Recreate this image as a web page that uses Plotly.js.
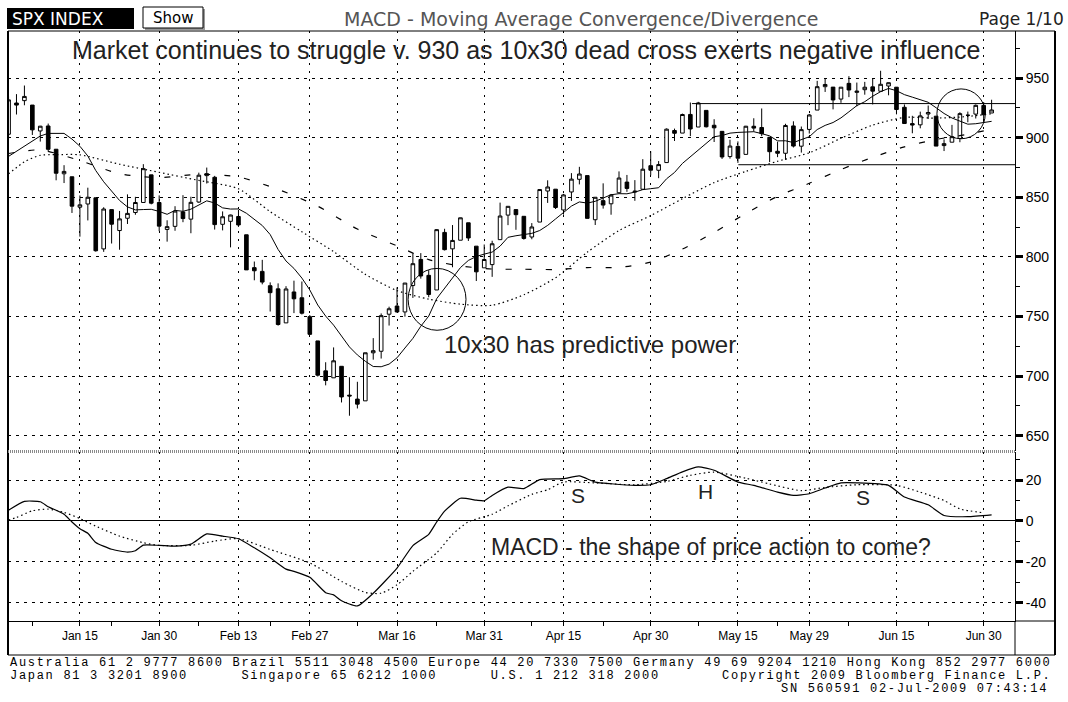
<!DOCTYPE html>
<html><head><meta charset="utf-8">
<script src="https://cdn.plot.ly/plotly-3.0.1.min.js"></script>
<style>html,body{margin:0;padding:0;background:#fff;}#chart{width:1068px;height:702px;}</style>
</head><body><div id="chart"></div>
<script>
// ---- data (SPX daily, Jan 2 - Jul 1 2009) ----
const dates = [
'2009-01-02','2009-01-05','2009-01-06','2009-01-07','2009-01-08','2009-01-09','2009-01-12','2009-01-13','2009-01-14','2009-01-15','2009-01-16','2009-01-20','2009-01-21','2009-01-22','2009-01-23','2009-01-26','2009-01-27','2009-01-28','2009-01-29','2009-01-30',
'2009-02-02','2009-02-03','2009-02-04','2009-02-05','2009-02-06','2009-02-09','2009-02-10','2009-02-11','2009-02-12','2009-02-13','2009-02-17','2009-02-18','2009-02-19','2009-02-20','2009-02-23','2009-02-24','2009-02-25','2009-02-26','2009-02-27',
'2009-03-02','2009-03-03','2009-03-04','2009-03-05','2009-03-06','2009-03-09','2009-03-10','2009-03-11','2009-03-12','2009-03-13','2009-03-16','2009-03-17','2009-03-18','2009-03-19','2009-03-20','2009-03-23','2009-03-24','2009-03-25','2009-03-26','2009-03-27','2009-03-30','2009-03-31',
'2009-04-01','2009-04-02','2009-04-03','2009-04-06','2009-04-07','2009-04-08','2009-04-09','2009-04-13','2009-04-14','2009-04-15','2009-04-16','2009-04-17','2009-04-20','2009-04-21','2009-04-22','2009-04-23','2009-04-24','2009-04-27','2009-04-28','2009-04-29','2009-04-30',
'2009-05-01','2009-05-04','2009-05-05','2009-05-06','2009-05-07','2009-05-08','2009-05-11','2009-05-12','2009-05-13','2009-05-14','2009-05-15','2009-05-18','2009-05-19','2009-05-20','2009-05-21','2009-05-22','2009-05-26','2009-05-27','2009-05-28','2009-05-29',
'2009-06-01','2009-06-02','2009-06-03','2009-06-04','2009-06-05','2009-06-08','2009-06-09','2009-06-10','2009-06-11','2009-06-12','2009-06-15','2009-06-16','2009-06-17','2009-06-18','2009-06-19','2009-06-22','2009-06-23','2009-06-24','2009-06-25','2009-06-26','2009-06-29','2009-06-30','2009-07-01'];

const open = [902.99,929.17,931.17,927.45,905.73,909.91,890.40,869.79,867.28,841.75,844.45,849.64,806.77,839.74,822.16,832.50,837.30,845.73,868.89,845.69,
823.09,825.69,837.77,831.75,846.09,868.24,866.87,827.41,829.91,833.95,818.61,791.06,787.91,775.87,773.25,744.69,770.64,765.76,749.93,
729.57,704.44,698.60,708.27,684.04,680.76,679.28,719.59,720.89,751.97,758.84,753.88,776.01,797.92,784.58,772.31,820.60,806.81,814.06,828.68,809.07,790.88,
793.59,814.53,835.13,839.75,834.12,816.76,829.29,855.33,856.88,839.44,854.54,865.18,868.27,831.25,847.26,844.62,853.91,862.82,854.48,856.85,876.59,
872.74,879.21,906.10,903.95,919.58,909.03,922.99,910.52,905.40,884.24,892.76,886.07,909.67,908.62,900.42,888.68,887.00,909.95,892.96,907.02,
923.26,942.87,942.51,932.49,945.67,938.12,940.35,942.73,939.04,943.44,942.45,925.60,911.89,910.86,919.96,918.13,893.46,896.31,899.45,918.84,919.86,927.15,920.82];
const high = [934.73,936.63,943.85,927.45,910.00,911.93,890.40,877.02,867.28,851.59,858.13,849.64,841.72,839.74,838.61,852.53,850.45,877.86,868.89,851.66,
830.78,842.60,851.85,850.55,870.75,875.01,868.05,838.22,835.48,839.43,818.61,796.17,797.58,778.69,777.85,775.49,780.12,779.42,751.27,
729.57,711.67,724.12,708.27,699.09,695.27,719.60,731.92,752.63,758.29,774.53,778.12,803.04,803.24,788.91,823.37,823.65,826.78,832.98,828.68,809.07,810.48,
813.62,845.61,842.50,839.75,834.12,828.42,856.91,864.31,856.88,852.93,870.35,875.63,868.27,850.09,861.78,852.87,871.80,868.83,864.48,882.06,888.70,
880.48,907.85,907.70,920.28,929.58,930.17,922.99,915.57,905.40,898.36,896.97,910.00,916.39,924.60,900.42,896.65,911.76,913.84,909.45,920.02,
947.77,949.38,942.51,942.47,951.69,946.33,946.92,949.77,956.23,946.30,942.45,928.00,918.44,921.93,927.09,918.13,898.69,910.85,921.42,922.00,927.99,930.01,931.92];
const low = [899.35,919.53,927.28,902.37,896.81,888.31,864.32,862.02,836.93,817.04,830.66,804.47,804.30,811.29,806.07,827.69,835.40,845.73,844.15,821.67,
812.87,821.98,829.18,819.91,845.42,861.65,822.99,822.30,808.06,825.21,789.17,780.43,777.03,754.25,742.37,744.69,752.89,751.75,734.52,
699.70,692.30,698.60,677.93,666.79,672.88,679.28,713.85,714.76,742.46,753.37,749.93,765.64,781.82,766.20,772.31,805.48,791.37,814.06,813.43,779.81,790.88,
783.32,814.53,826.70,822.79,814.53,814.84,829.29,845.35,840.25,835.58,847.04,860.87,832.39,826.83,840.57,835.45,853.91,854.65,847.12,856.85,868.51,
866.10,879.21,897.34,903.95,901.36,909.03,908.68,896.46,882.27,882.52,878.94,886.07,905.22,901.37,879.61,883.75,881.46,891.87,887.60,903.56,
923.26,938.46,923.85,929.32,934.13,926.44,936.15,927.97,939.04,935.66,919.65,911.60,903.78,907.94,915.80,893.04,888.86,896.31,896.27,913.03,916.18,912.86,920.82];
const close = [931.80,927.45,934.70,906.65,909.73,890.35,870.26,871.79,842.62,843.74,850.12,805.22,840.24,827.50,831.95,836.57,845.71,874.09,845.14,825.88,
825.44,838.51,832.23,845.85,868.60,869.89,827.16,833.74,835.19,826.84,789.17,788.42,778.94,770.05,743.33,773.14,764.90,752.83,735.09,
700.82,696.33,712.87,682.55,683.38,676.53,719.60,721.36,750.74,756.55,753.89,778.12,794.35,784.04,768.54,822.92,806.12,813.88,832.86,815.94,787.53,797.87,
811.08,834.38,842.50,835.48,815.55,825.16,856.56,858.73,841.50,852.06,865.30,869.60,832.39,850.08,843.55,851.92,866.23,857.51,855.16,873.64,872.81,
877.52,907.24,903.80,919.53,907.39,929.23,909.24,908.35,883.92,893.07,882.88,909.71,908.13,903.47,888.33,887.00,910.33,893.06,906.83,919.14,
942.87,944.74,931.76,942.46,940.09,939.14,942.43,939.15,944.89,946.21,923.72,911.97,910.71,918.37,921.23,893.04,895.10,900.94,920.26,918.90,927.23,919.32,923.33];

// 10-day moving average (solid line), one value per day
const ma10 = [884.4,888.6,893.3,896.8,901.5,903.7,903.4,903.7,898.9,892.9,884.7,872.5,863.1,855.2,847.4,842.0,839.5,839.8,840.0,838.2,
835.8,839.1,838.3,840.1,843.8,847.1,845.3,841.2,840.2,840.3,836.7,831.7,826.4,818.8,806.3,796.6,790.4,782.3,772.3,
759.7,750.4,742.8,733.2,724.5,717.8,712.5,708.1,707.9,710.1,715.4,723.6,731.7,741.9,750.4,765.0,773.7,782.9,791.1,797.1,800.4,802.4,
804.1,809.1,816.5,817.8,818.7,819.8,822.2,826.5,831.9,837.3,842.7,846.2,845.2,846.7,849.5,852.2,853.1,853.0,854.4,856.5,857.3,
858.1,865.6,870.9,878.5,884.1,890.4,895.6,900.9,901.9,903.9,904.5,904.7,905.1,903.5,901.6,897.4,897.5,896.0,898.3,900.9,
906.9,910.4,912.8,916.7,921.8,927.0,930.3,934.9,938.7,941.4,939.5,936.2,934.1,931.7,929.8,925.2,920.4,916.6,914.2,911.4,911.8,912.5,913.8];

// 30-day moving average (dotted line), read at sample days
const ma30Dates = ['2009-01-02','2009-01-06','2009-01-08','2009-01-12','2009-01-15','2009-01-23','2009-01-30','2009-02-06','2009-02-13','2009-02-20','2009-02-26','2009-03-04','2009-03-10','2009-03-16','2009-03-20','2009-03-26','2009-04-01','2009-04-07','2009-04-14','2009-04-20','2009-04-24','2009-04-30','2009-05-06','2009-05-12','2009-05-18','2009-05-22','2009-05-29','2009-06-04','2009-06-10','2009-06-16','2009-06-22','2009-06-26','2009-07-01'];
const ma30 = [869.7,879.8,885.3,885.8,885.7,877.8,871.0,864.2,857.2,838.0,821.1,804.5,785.4,771.8,764.6,760.4,759.5,768.3,782.6,804.0,822.2,834.7,848.9,862.4,871.8,880.3,887.4,899.6,910.6,917.1,916.5,917.9,920.2];

// 50-day moving average (dashed line), read at sample days
const ma50Dates = ['2009-01-02','2009-01-08','2009-01-15','2009-01-23','2009-01-30','2009-02-06','2009-02-13','2009-02-23','2009-03-02','2009-03-09','2009-03-16','2009-03-20','2009-03-26','2009-04-01','2009-04-07','2009-04-14','2009-04-20','2009-04-24','2009-04-30','2009-05-06','2009-05-12','2009-05-18','2009-05-22','2009-05-29','2009-06-04','2009-06-10','2009-06-16','2009-06-22','2009-06-26','2009-07-01'];
const ma50 = [886.8,889.8,880.9,869.8,866.6,869.4,867.1,856.7,842.6,823.4,809.3,797.8,792.5,789.9,789.7,789.5,791.1,791.3,795.7,806.6,820.6,836.5,850.9,861.8,873.4,883.6,892.4,898.6,903.0,907.3];

// MACD line (solid) and signal line (dotted)
const macdDates = ['2009-01-02','2009-01-06','2009-01-08','2009-01-09','2009-01-13','2009-01-14','2009-01-15','2009-01-16','2009-01-20','2009-01-22','2009-01-26','2009-01-27','2009-01-28','2009-01-30','2009-02-03','2009-02-05','2009-02-09','2009-02-11','2009-02-13','2009-02-18','2009-02-20','2009-02-24','2009-02-25','2009-02-27','2009-03-03','2009-03-04','2009-03-05','2009-03-09','2009-03-11','2009-03-16','2009-03-18','2009-03-20','2009-03-23','2009-03-24','2009-03-26','2009-03-30','2009-03-31','2009-04-01','2009-04-03','2009-04-07','2009-04-09','2009-04-15','2009-04-17','2009-04-21','2009-04-23','2009-04-28','2009-04-30','2009-05-04','2009-05-06','2009-05-08','2009-05-12','2009-05-15','2009-05-19','2009-05-22','2009-05-27','2009-05-29','2009-06-02','2009-06-04','2009-06-08','2009-06-12','2009-06-16','2009-06-19','2009-06-23','2009-06-26','2009-07-01'];
const macd = [5.3,9.6,9.4,7.0,3.3,-0.5,-3.8,-6.0,-10.5,-13.8,-15.2,-14.5,-11.8,-11.9,-12.3,-11.3,-6.3,-7.4,-8.7,-13.1,-18.0,-23.5,-24.6,-27.5,-35.0,-36.1,-39.0,-41.5,-35.3,-23.0,-12.0,-6.5,-0.5,4.8,11.1,10.2,9.9,12.5,16.5,15.8,20.2,20.7,22.0,19.0,18.2,17.4,17.7,20.7,24.0,26.4,24.8,19.0,17.4,14.1,12.5,13.3,16.1,18.6,18.6,17.4,11.7,7.9,2.7,2.1,3.0];
const sigDates = ['2009-01-02','2009-01-05','2009-01-07','2009-01-09','2009-01-13','2009-01-15','2009-01-20','2009-01-23','2009-01-28','2009-01-30','2009-02-05','2009-02-10','2009-02-13','2009-02-20','2009-02-27','2009-03-05','2009-03-10','2009-03-12','2009-03-16','2009-03-18','2009-03-23','2009-03-25','2009-03-27','2009-04-01','2009-04-03','2009-04-08','2009-04-13','2009-04-15','2009-04-21','2009-04-28','2009-05-04','2009-05-07','2009-05-12','2009-05-18','2009-05-21','2009-05-28','2009-06-02','2009-06-08','2009-06-15','2009-06-18','2009-06-23','2009-06-25','2009-06-30'];
const signal = [0.5,1.7,5.0,5.8,4.2,1.2,-2.5,-7.4,-10.6,-11.9,-11.9,-9.8,-8.6,-13.9,-20.5,-29.5,-34.9,-35.3,-31.2,-24.6,-15.6,-6.5,-0.4,3.3,7.4,13.0,15.3,19.0,18.6,17.7,19.3,22.3,23.9,20.9,18.1,14.8,16.4,17.7,17.4,14.1,10.0,5.9,4.0];

const tickDates = ['2009-01-15','2009-01-30','2009-02-13','2009-02-27','2009-03-16','2009-03-31','2009-04-15','2009-04-30','2009-05-15','2009-05-29','2009-06-15','2009-06-30'];
const tickLabels = ['Jan 15','Jan 30','Feb 13','Feb 27','Mar 16','Mar 31','Apr 15','Apr 30','May 15','May 29','Jun 15','Jun 30'];
const minorTickDates = ['2009-01-07','2009-01-22','2009-02-06','2009-02-20','2009-03-09','2009-03-23','2009-04-08','2009-04-22','2009-05-08','2009-05-22','2009-06-05','2009-06-19'];
const priceTicks = [650,700,750,800,850,900,950];
const priceMinor = [675,725,775,825,875,925,975];
const macdTicks = [-40,-20,0,20];
const macdTickText = ['-40','-20','0','20'];
const macdMinor = [-30,-10,10,30];

// ---- build ----
const W = 1068, H = 702;
const idx = d => dates.indexOf(d);
const xi = dates.map((d, k) => k);
const px = x => x / W, py = y => 1 - y / H;
const DOT = '#000';

const traces = [
  {type:'candlestick', x:xi, open:open, high:high, low:low, close:close, xaxis:'x', yaxis:'y',
   increasing:{line:{color:'#000', width:1}, fillcolor:'#fff'},
   decreasing:{line:{color:'#000', width:1}, fillcolor:'#000'},
   whiskerwidth:0, hoverinfo:'skip', showlegend:false},
  {type:'scatter', mode:'lines', x:xi, y:ma10, xaxis:'x', yaxis:'y', line:{color:'#000', width:1}, hoverinfo:'skip'},
  {type:'scatter', mode:'lines', x:ma30Dates.map(idx), y:ma30, xaxis:'x', yaxis:'y', line:{color:'#000', width:1.2, dash:'1.5px,3px', shape:'spline', smoothing:0.7}, hoverinfo:'skip'},
  {type:'scatter', mode:'lines', x:ma50Dates.map(idx), y:ma50, xaxis:'x', yaxis:'y', line:{color:'#000', width:1.2, dash:'6px,14px', shape:'spline', smoothing:0.7}, hoverinfo:'skip'},
  {type:'scatter', mode:'lines', x:macdDates.map(idx), y:macd, xaxis:'x2', yaxis:'y2', line:{color:'#000', width:1.2, shape:'spline', smoothing:0.5}, hoverinfo:'skip'},
  {type:'scatter', mode:'lines', x:sigDates.map(idx), y:signal, xaxis:'x2', yaxis:'y2', line:{color:'#000', width:1.2, dash:'1.5px,3px', shape:'spline', smoothing:0.6}, hoverinfo:'skip'}
];

const xr = [-0.07, 126.95];
const xdom = [px(8), px(1015)];
const tickFontR = {family:'Liberation Sans Narrow, Arial Narrow, sans-serif', size:14, color:'#000'};

const layout = {
  width:W, height:H, margin:{l:0, r:0, t:0, b:0}, autosize:false,
  paper_bgcolor:'#fff', plot_bgcolor:'#fff', showlegend:false, boxgap:0.35,
  xaxis:{domain:xdom, range:xr, anchor:'y', tickmode:'array', tickvals:tickDates.map(idx), showticklabels:false, ticks:'',
         showgrid:true, gridcolor:DOT, gridwidth:1, griddash:'2px,6px', zeroline:false, showline:false,
         rangeslider:{visible:false}, fixedrange:true},
  yaxis:{domain:[py(451), py(31)], range:[637.2, 989.6], anchor:'x', side:'right', tickmode:'array', tickvals:priceTicks,
         ticks:'outside', ticklen:7, tickwidth:3, tickcolor:'#000', showline:true, linecolor:'#000', linewidth:1,
         showgrid:true, gridcolor:DOT, gridwidth:1, griddash:'3px,5px', zeroline:false, tickfont:tickFontR,
         minor:{tickmode:'array', tickvals:priceMinor, ticks:'outside', ticklen:4, tickwidth:1, tickcolor:'#000', showgrid:false}, fixedrange:true},
  xaxis2:{domain:xdom, range:xr, anchor:'y2', tickmode:'array', tickvals:tickDates.map(idx), ticktext:tickLabels,
          ticks:'outside', ticklen:4, tickcolor:'#000', showline:true, linecolor:'#000', linewidth:1,
          showgrid:true, gridcolor:DOT, gridwidth:1, griddash:'2px,6px', zeroline:false,
          tickfont:{family:'Liberation Sans Narrow, Arial Narrow, sans-serif', size:12, color:'#000'},
          minor:{tickmode:'array', tickvals:minorTickDates.map(idx), ticks:'outside', ticklen:4, tickcolor:'#000', showgrid:false}, fixedrange:true},
  yaxis2:{domain:[py(621), py(452)], range:[-48.85, 33.7], anchor:'x2', side:'right', tickmode:'array', tickvals:macdTicks, ticktext:macdTickText,
          ticks:'outside', ticklen:7, tickwidth:3, tickcolor:'#000', showline:true, linecolor:'#000', linewidth:1,
          showgrid:true, gridcolor:DOT, gridwidth:1, griddash:'3px,5px', zeroline:true, zerolinecolor:'#000', zerolinewidth:1,
          tickfont:tickFontR,
          minor:{tickmode:'array', tickvals:macdMinor, ticks:'outside', ticklen:4, tickwidth:1, tickcolor:'#000', showgrid:false}, fixedrange:true},
  shapes:[
    // frame
    {type:'line', xref:'paper', yref:'paper', x0:px(8), x1:px(1055), y0:py(31), y1:py(31), line:{color:'#000', width:1}},
    {type:'line', xref:'paper', yref:'paper', x0:px(8), x1:px(8), y0:py(31), y1:py(655), line:{color:'#000', width:2}},
    {type:'line', xref:'paper', yref:'paper', x0:px(1055), x1:px(1055), y0:py(31), y1:py(655), line:{color:'#000', width:2}},
    {type:'line', xref:'paper', yref:'paper', x0:px(8), x1:px(1055), y0:py(655), y1:py(655), line:{color:'#000', width:1}},
    {type:'line', xref:'paper', yref:'paper', x0:px(1015), x1:px(1015), y0:py(621), y1:py(655), line:{color:'#000', width:1}},
    {type:'line', xref:'paper', yref:'paper', x0:px(1015), x1:px(1055), y0:py(621), y1:py(621), line:{color:'#000', width:1}},
    {type:'line', xref:'paper', yref:'paper', x0:px(8), x1:px(1015), y0:py(451.5), y1:py(451.5), line:{color:'#8a8a8a', width:3, dash:'1px,1px'}},
    // title bar boxes
    {type:'rect', xref:'paper', yref:'paper', x0:px(7), x1:px(134), y0:py(29), y1:py(8), fillcolor:'#000', line:{width:0}},
    {type:'rect', xref:'paper', yref:'paper', x0:px(145), x1:px(205), y0:py(30), y1:py(9), fillcolor:'#9a9a9a', line:{width:0}},
    {type:'rect', xref:'paper', yref:'paper', x0:px(143), x1:px(203), y0:py(28), y1:py(7), fillcolor:'#fff', line:{color:'#000', width:1}},
    // annotation drawings
    {type:'circle', xref:'x', yref:'y', x0:50.4, x1:57.7, y0:738.5, y1:790.4, line:{color:'#000', width:1}},
    {type:'circle', xref:'x', yref:'y', x0:117.1, x1:123.2, y0:899.2, y1:941.0, line:{color:'#000', width:1}},
    {type:'line', xref:'x', yref:'y', x0:86.2, x1:126.95, y0:928.7, y1:928.7, line:{color:'#000', width:1}},
    {type:'line', xref:'x', yref:'y', x0:92.05, x1:126.95, y0:877.4, y1:877.4, line:{color:'#000', width:1}}
  ],
  annotations:[]
};

const A = layout.annotations;
const txt = (text, x, y, opts) => A.push(Object.assign({text:text, xref:'paper', yref:'paper', x:px(x), y:py(y), showarrow:false,
  xanchor:'center', yanchor:'middle', font:{family:'Liberation Sans, Arial, sans-serif', size:22, color:'#222'}}, opts || {}));
const big = s => ({font:{family:'Liberation Sans, Arial, sans-serif', size:s, color:'#222'}});

txt('SPX INDEX', 10, 19, {xanchor:'left', font:{family:'DejaVu Sans, sans-serif', size:17, color:'#fff'}});
txt('Show', 173, 18, {font:{family:'DejaVu Sans, sans-serif', size:15, color:'#000'}});
txt('MACD - Moving Average Convergence/Divergence', 581, 19, {font:{family:'DejaVu Sans, sans-serif', size:19, color:'#555'}});
txt('Page 1/10', 1066, 19, {xanchor:'right', font:{family:'DejaVu Sans, sans-serif', size:17, color:'#222'}});

txt('Market continues to struggle v. 930 as 10x30 dead cross exerts negative influence', 526, 50, big(25));
txt('10x30 has predictive power', 590, 344, big(24));
txt('MACD - the shape of price action to come?', 711, 547, big(23));
txt('S', 578, 495, big(21));
txt('H', 705, 492, big(21));
txt('S', 863, 497, big(21));

const NB = '\u00a0';
const footFont = {family:'Liberation Mono, DejaVu Sans Mono, monospace', size:12, color:'#000'};
const foot = s => '<span style="letter-spacing:1.7px">' + s.replace(/ /g, NB) + '</span>';
txt(foot('Australia 61 2 9777 8600 Brazil 5511 3048 4500 Europe 44 20 7330 7500 Germany 49 69 9204 1210 Hong Kong 852 2977 6000'), 8, 663, {xanchor:'left', font:footFont});
txt(foot('Japan 81 3 3201 8900' + ' '.repeat(6) + 'Singapore 65 6212 1000' + ' '.repeat(6) + 'U.S. 1 212 318 2000' + ' '.repeat(7) + 'Copyright 2009 Bloomberg Finance L.P.'), 8, 676, {xanchor:'left', font:footFont});
txt(foot('SN 560591 02-Jul-2009 07:43:14'), 1050, 689, {xanchor:'right', font:footFont});

Plotly.newPlot('chart', traces, layout, {staticPlot:true, displayModeBar:false});
</script>
</body></html>
